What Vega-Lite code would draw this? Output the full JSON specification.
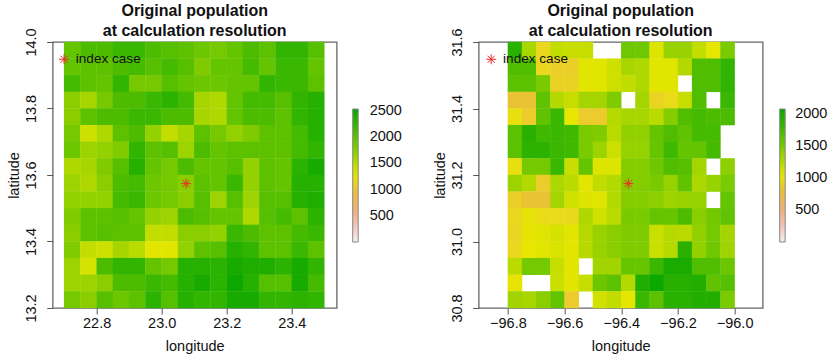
{"$schema":"https://vega.github.io/schema/vega-lite/v6.json","padding":{"left":4.7,"top":2,"right":0,"bottom":0},"background":"white","bounds":"flush","spacing":142,"resolve":{"scale":{"color":"independent"}},
"config":{"font":"Liberation Sans","view":{"stroke":"#666","strokeWidth":1.3},"axis":{"grid":false,"domain":false,"tickColor":"#555","tickSize":6,"labelColor":"#111","titleColor":"#111","labelFontSize":14.5,"titleFontSize":14.5,"titleFontWeight":"normal","labelOverlap":false,"labelFlush":false,"format":".1f"},"title":{"fontSize":16,"fontWeight":"bold","lineHeight":20,"color":"#111","anchor":"middle","frame":"group","offset":-11},"legend":{"gradientStrokeColor":"#888","gradientStrokeWidth":1,"labelFontSize":14.5,"labelColor":"#111"}},
"datasets":{"west":[
{"lon":22.725,"lat":13.975,"pop":1950},{"lon":22.775,"lat":13.975,"pop":2100},{"lon":22.825,"lat":13.975,"pop":2100},{"lon":22.875,"lat":13.975,"pop":2200},{"lon":22.925,"lat":13.975,"pop":2200},{"lon":22.975,"lat":13.975,"pop":2100},{"lon":23.025,"lat":13.975,"pop":2050},{"lon":23.075,"lat":13.975,"pop":2000},{"lon":23.125,"lat":13.975,"pop":1900},{"lon":23.175,"lat":13.975,"pop":1850},{"lon":23.225,"lat":13.975,"pop":1950},{"lon":23.275,"lat":13.975,"pop":2100},{"lon":23.325,"lat":13.975,"pop":2000},{"lon":23.375,"lat":13.975,"pop":2250},{"lon":23.425,"lat":13.975,"pop":2250},{"lon":23.475,"lat":13.975,"pop":2050},
{"lon":22.725,"lat":13.925,"pop":1950},{"lon":22.775,"lat":13.925,"pop":2000},{"lon":22.825,"lat":13.925,"pop":2000},{"lon":22.875,"lat":13.925,"pop":2100},{"lon":22.925,"lat":13.925,"pop":2150},{"lon":22.975,"lat":13.925,"pop":2050},{"lon":23.025,"lat":13.925,"pop":2150},{"lon":23.075,"lat":13.925,"pop":2050},{"lon":23.125,"lat":13.925,"pop":1800},{"lon":23.175,"lat":13.925,"pop":1950},{"lon":23.225,"lat":13.925,"pop":1950},{"lon":23.275,"lat":13.925,"pop":2150},{"lon":23.325,"lat":13.925,"pop":1950},{"lon":23.375,"lat":13.925,"pop":2200},{"lon":23.425,"lat":13.925,"pop":2200},{"lon":23.475,"lat":13.925,"pop":1950},
{"lon":22.725,"lat":13.875,"pop":2150},{"lon":22.775,"lat":13.875,"pop":2000},{"lon":22.825,"lat":13.875,"pop":1950},{"lon":22.875,"lat":13.875,"pop":2250},{"lon":22.925,"lat":13.875,"pop":1850},{"lon":22.975,"lat":13.875,"pop":1850},{"lon":23.025,"lat":13.875,"pop":2050},{"lon":23.075,"lat":13.875,"pop":1950},{"lon":23.125,"lat":13.875,"pop":1900},{"lon":23.175,"lat":13.875,"pop":1900},{"lon":23.225,"lat":13.875,"pop":1950},{"lon":23.275,"lat":13.875,"pop":1950},{"lon":23.325,"lat":13.875,"pop":2250},{"lon":23.375,"lat":13.875,"pop":2200},{"lon":23.425,"lat":13.875,"pop":2200},{"lon":23.475,"lat":13.875,"pop":2000},
{"lon":22.725,"lat":13.825,"pop":1750},{"lon":22.775,"lat":13.825,"pop":1600},{"lon":22.825,"lat":13.825,"pop":1850},{"lon":22.875,"lat":13.825,"pop":2100},{"lon":22.925,"lat":13.825,"pop":2100},{"lon":22.975,"lat":13.825,"pop":2200},{"lon":23.025,"lat":13.825,"pop":2300},{"lon":23.075,"lat":13.825,"pop":2150},{"lon":23.125,"lat":13.825,"pop":1600},{"lon":23.175,"lat":13.825,"pop":1550},{"lon":23.225,"lat":13.825,"pop":1950},{"lon":23.275,"lat":13.825,"pop":2150},{"lon":23.325,"lat":13.825,"pop":2150},{"lon":23.375,"lat":13.825,"pop":2050},{"lon":23.425,"lat":13.825,"pop":2250},{"lon":23.475,"lat":13.825,"pop":2350},
{"lon":22.725,"lat":13.775,"pop":1750},{"lon":22.775,"lat":13.775,"pop":2000},{"lon":22.825,"lat":13.775,"pop":2100},{"lon":22.875,"lat":13.775,"pop":2100},{"lon":22.925,"lat":13.775,"pop":2200},{"lon":22.975,"lat":13.775,"pop":2200},{"lon":23.025,"lat":13.775,"pop":2100},{"lon":23.075,"lat":13.775,"pop":2100},{"lon":23.125,"lat":13.775,"pop":1600},{"lon":23.175,"lat":13.775,"pop":1550},{"lon":23.225,"lat":13.775,"pop":1950},{"lon":23.275,"lat":13.775,"pop":2100},{"lon":23.325,"lat":13.775,"pop":2100},{"lon":23.375,"lat":13.775,"pop":2000},{"lon":23.425,"lat":13.775,"pop":2250},{"lon":23.475,"lat":13.775,"pop":2350},
{"lon":22.725,"lat":13.725,"pop":1850},{"lon":22.775,"lat":13.725,"pop":1400},{"lon":22.825,"lat":13.725,"pop":1550},{"lon":22.875,"lat":13.725,"pop":2000},{"lon":22.925,"lat":13.725,"pop":2100},{"lon":22.975,"lat":13.725,"pop":1700},{"lon":23.025,"lat":13.725,"pop":1450},{"lon":23.075,"lat":13.725,"pop":1600},{"lon":23.125,"lat":13.725,"pop":2000},{"lon":23.175,"lat":13.725,"pop":1850},{"lon":23.225,"lat":13.725,"pop":1700},{"lon":23.275,"lat":13.725,"pop":1800},{"lon":23.325,"lat":13.725,"pop":2000},{"lon":23.375,"lat":13.725,"pop":2000},{"lon":23.425,"lat":13.725,"pop":2150},{"lon":23.475,"lat":13.725,"pop":2350},
{"lon":22.725,"lat":13.675,"pop":1900},{"lon":22.775,"lat":13.675,"pop":1650},{"lon":22.825,"lat":13.675,"pop":1700},{"lon":22.875,"lat":13.675,"pop":1800},{"lon":22.925,"lat":13.675,"pop":2250},{"lon":22.975,"lat":13.675,"pop":2000},{"lon":23.025,"lat":13.675,"pop":2050},{"lon":23.075,"lat":13.675,"pop":1650},{"lon":23.125,"lat":13.675,"pop":2100},{"lon":23.175,"lat":13.675,"pop":1950},{"lon":23.225,"lat":13.675,"pop":2000},{"lon":23.275,"lat":13.675,"pop":2000},{"lon":23.325,"lat":13.675,"pop":2000},{"lon":23.375,"lat":13.675,"pop":2000},{"lon":23.425,"lat":13.675,"pop":2150},{"lon":23.475,"lat":13.675,"pop":2250},
{"lon":22.725,"lat":13.625,"pop":1550},{"lon":22.775,"lat":13.625,"pop":1600},{"lon":22.825,"lat":13.625,"pop":1800},{"lon":22.875,"lat":13.625,"pop":2050},{"lon":22.925,"lat":13.625,"pop":2350},{"lon":22.975,"lat":13.625,"pop":1950},{"lon":23.025,"lat":13.625,"pop":1850},{"lon":23.075,"lat":13.625,"pop":2100},{"lon":23.125,"lat":13.625,"pop":1950},{"lon":23.175,"lat":13.625,"pop":1950},{"lon":23.225,"lat":13.625,"pop":2050},{"lon":23.275,"lat":13.625,"pop":1700},{"lon":23.325,"lat":13.625,"pop":2000},{"lon":23.375,"lat":13.625,"pop":1950},{"lon":23.425,"lat":13.625,"pop":2300},{"lon":23.475,"lat":13.625,"pop":2450},
{"lon":22.725,"lat":13.575,"pop":1650},{"lon":22.775,"lat":13.575,"pop":1550},{"lon":22.825,"lat":13.575,"pop":1750},{"lon":22.875,"lat":13.575,"pop":2100},{"lon":22.925,"lat":13.575,"pop":2150},{"lon":22.975,"lat":13.575,"pop":1900},{"lon":23.025,"lat":13.575,"pop":1850},{"lon":23.075,"lat":13.575,"pop":1750},{"lon":23.125,"lat":13.575,"pop":2000},{"lon":23.175,"lat":13.575,"pop":1950},{"lon":23.225,"lat":13.575,"pop":2200},{"lon":23.275,"lat":13.575,"pop":1700},{"lon":23.325,"lat":13.575,"pop":2000},{"lon":23.375,"lat":13.575,"pop":1950},{"lon":23.425,"lat":13.575,"pop":2350},{"lon":23.475,"lat":13.575,"pop":2350},
{"lon":22.725,"lat":13.525,"pop":1700},{"lon":22.775,"lat":13.525,"pop":1700},{"lon":22.825,"lat":13.525,"pop":1700},{"lon":22.875,"lat":13.525,"pop":2150},{"lon":22.925,"lat":13.525,"pop":2200},{"lon":22.975,"lat":13.525,"pop":1900},{"lon":23.025,"lat":13.525,"pop":1850},{"lon":23.075,"lat":13.525,"pop":1750},{"lon":23.125,"lat":13.525,"pop":2050},{"lon":23.175,"lat":13.525,"pop":1650},{"lon":23.225,"lat":13.525,"pop":2050},{"lon":23.275,"lat":13.525,"pop":1650},{"lon":23.325,"lat":13.525,"pop":2050},{"lon":23.375,"lat":13.525,"pop":2050},{"lon":23.425,"lat":13.525,"pop":2350},{"lon":23.475,"lat":13.525,"pop":2400},
{"lon":22.725,"lat":13.475,"pop":1800},{"lon":22.775,"lat":13.475,"pop":2000},{"lon":22.825,"lat":13.475,"pop":2000},{"lon":22.875,"lat":13.475,"pop":2050},{"lon":22.925,"lat":13.475,"pop":1950},{"lon":22.975,"lat":13.475,"pop":1700},{"lon":23.025,"lat":13.475,"pop":1650},{"lon":23.075,"lat":13.475,"pop":2100},{"lon":23.125,"lat":13.475,"pop":2050},{"lon":23.175,"lat":13.475,"pop":1950},{"lon":23.225,"lat":13.475,"pop":1950},{"lon":23.275,"lat":13.475,"pop":1550},{"lon":23.325,"lat":13.475,"pop":2050},{"lon":23.375,"lat":13.475,"pop":2150},{"lon":23.425,"lat":13.475,"pop":2000},{"lon":23.475,"lat":13.475,"pop":2300},
{"lon":22.725,"lat":13.425,"pop":1750},{"lon":22.775,"lat":13.425,"pop":2000},{"lon":22.825,"lat":13.425,"pop":2050},{"lon":22.875,"lat":13.425,"pop":2000},{"lon":22.925,"lat":13.425,"pop":2000},{"lon":22.975,"lat":13.425,"pop":1450},{"lon":23.025,"lat":13.425,"pop":1450},{"lon":23.075,"lat":13.425,"pop":1750},{"lon":23.125,"lat":13.425,"pop":1750},{"lon":23.175,"lat":13.425,"pop":1700},{"lon":23.225,"lat":13.425,"pop":2200},{"lon":23.275,"lat":13.425,"pop":2100},{"lon":23.325,"lat":13.425,"pop":2000},{"lon":23.375,"lat":13.425,"pop":2000},{"lon":23.425,"lat":13.425,"pop":2150},{"lon":23.475,"lat":13.425,"pop":2200},
{"lon":22.725,"lat":13.375,"pop":1800},{"lon":22.775,"lat":13.375,"pop":1450},{"lon":22.825,"lat":13.375,"pop":1400},{"lon":22.875,"lat":13.375,"pop":1600},{"lon":22.925,"lat":13.375,"pop":1500},{"lon":22.975,"lat":13.375,"pop":1290},{"lon":23.025,"lat":13.375,"pop":1290},{"lon":23.075,"lat":13.375,"pop":1700},{"lon":23.125,"lat":13.375,"pop":2000},{"lon":23.175,"lat":13.375,"pop":2050},{"lon":23.225,"lat":13.375,"pop":2350},{"lon":23.275,"lat":13.375,"pop":2250},{"lon":23.325,"lat":13.375,"pop":2000},{"lon":23.375,"lat":13.375,"pop":2000},{"lon":23.425,"lat":13.375,"pop":2200},{"lon":23.475,"lat":13.375,"pop":2000},
{"lon":22.725,"lat":13.325,"pop":1650},{"lon":22.775,"lat":13.325,"pop":1350},{"lon":22.825,"lat":13.325,"pop":2100},{"lon":22.875,"lat":13.325,"pop":2250},{"lon":22.925,"lat":13.325,"pop":2250},{"lon":22.975,"lat":13.325,"pop":1950},{"lon":23.025,"lat":13.325,"pop":1850},{"lon":23.075,"lat":13.325,"pop":2350},{"lon":23.125,"lat":13.325,"pop":2350},{"lon":23.175,"lat":13.325,"pop":2300},{"lon":23.225,"lat":13.325,"pop":2450},{"lon":23.275,"lat":13.325,"pop":2400},{"lon":23.325,"lat":13.325,"pop":2400},{"lon":23.375,"lat":13.325,"pop":2300},{"lon":23.425,"lat":13.325,"pop":2450},{"lon":23.475,"lat":13.325,"pop":2250},
{"lon":22.725,"lat":13.275,"pop":1650},{"lon":22.775,"lat":13.275,"pop":1650},{"lon":22.825,"lat":13.275,"pop":1750},{"lon":22.875,"lat":13.275,"pop":2100},{"lon":22.925,"lat":13.275,"pop":2100},{"lon":22.975,"lat":13.275,"pop":2200},{"lon":23.025,"lat":13.275,"pop":2150},{"lon":23.075,"lat":13.275,"pop":2350},{"lon":23.125,"lat":13.275,"pop":2450},{"lon":23.175,"lat":13.275,"pop":2300},{"lon":23.225,"lat":13.275,"pop":2500},{"lon":23.275,"lat":13.275,"pop":2350},{"lon":23.325,"lat":13.275,"pop":2050},{"lon":23.375,"lat":13.275,"pop":2050},{"lon":23.425,"lat":13.275,"pop":2450},{"lon":23.475,"lat":13.275,"pop":2150},
{"lon":22.725,"lat":13.225,"pop":1850},{"lon":22.775,"lat":13.225,"pop":1750},{"lon":22.825,"lat":13.225,"pop":2050},{"lon":22.875,"lat":13.225,"pop":1900},{"lon":22.925,"lat":13.225,"pop":2000},{"lon":22.975,"lat":13.225,"pop":2300},{"lon":23.025,"lat":13.225,"pop":2050},{"lon":23.075,"lat":13.225,"pop":2350},{"lon":23.125,"lat":13.225,"pop":2250},{"lon":23.175,"lat":13.225,"pop":2250},{"lon":23.225,"lat":13.225,"pop":2450},{"lon":23.275,"lat":13.225,"pop":2450},{"lon":23.325,"lat":13.225,"pop":2250},{"lon":23.375,"lat":13.225,"pop":2250},{"lon":23.425,"lat":13.225,"pop":2300},{"lon":23.475,"lat":13.225,"pop":2250}
],"east":[
{"lon":-96.775,"lat":31.575,"pop":1900},{"lon":-96.725,"lat":31.575,"pop":1300},{"lon":-96.675,"lat":31.575,"pop":950},{"lon":-96.625,"lat":31.575,"pop":1190},{"lon":-96.575,"lat":31.575,"pop":1170},{"lon":-96.525,"lat":31.575,"pop":1180},{"lon":-96.375,"lat":31.575,"pop":1550},{"lon":-96.325,"lat":31.575,"pop":1550},{"lon":-96.275,"lat":31.575,"pop":1080},{"lon":-96.225,"lat":31.575,"pop":1370},{"lon":-96.175,"lat":31.575,"pop":1370},{"lon":-96.125,"lat":31.575,"pop":1190},{"lon":-96.075,"lat":31.575,"pop":1040},{"lon":-96.025,"lat":31.575,"pop":1500},
{"lon":-96.775,"lat":31.525,"pop":1700},{"lon":-96.725,"lat":31.525,"pop":1700},{"lon":-96.675,"lat":31.525,"pop":950},{"lon":-96.625,"lat":31.525,"pop":900},{"lon":-96.575,"lat":31.525,"pop":900},{"lon":-96.525,"lat":31.525,"pop":1060},{"lon":-96.475,"lat":31.525,"pop":1060},{"lon":-96.425,"lat":31.525,"pop":1140},{"lon":-96.375,"lat":31.525,"pop":1300},{"lon":-96.325,"lat":31.525,"pop":1270},{"lon":-96.275,"lat":31.525,"pop":1060},{"lon":-96.225,"lat":31.525,"pop":1060},{"lon":-96.175,"lat":31.525,"pop":1250},{"lon":-96.125,"lat":31.525,"pop":1700},{"lon":-96.075,"lat":31.525,"pop":1700},{"lon":-96.025,"lat":31.525,"pop":1850},
{"lon":-96.775,"lat":31.475,"pop":1650},{"lon":-96.725,"lat":31.475,"pop":1650},{"lon":-96.675,"lat":31.475,"pop":1500},{"lon":-96.625,"lat":31.475,"pop":920},{"lon":-96.575,"lat":31.475,"pop":920},{"lon":-96.525,"lat":31.475,"pop":1060},{"lon":-96.475,"lat":31.475,"pop":1060},{"lon":-96.425,"lat":31.475,"pop":1140},{"lon":-96.375,"lat":31.475,"pop":1200},{"lon":-96.325,"lat":31.475,"pop":1270},{"lon":-96.275,"lat":31.475,"pop":1060},{"lon":-96.225,"lat":31.475,"pop":1060},{"lon":-96.125,"lat":31.475,"pop":1700},{"lon":-96.075,"lat":31.475,"pop":1700},{"lon":-96.025,"lat":31.475,"pop":1850},
{"lon":-96.775,"lat":31.425,"pop":820},{"lon":-96.725,"lat":31.425,"pop":820},{"lon":-96.675,"lat":31.425,"pop":1620},{"lon":-96.625,"lat":31.425,"pop":1250},{"lon":-96.575,"lat":31.425,"pop":1180},{"lon":-96.525,"lat":31.425,"pop":1320},{"lon":-96.475,"lat":31.425,"pop":1320},{"lon":-96.425,"lat":31.425,"pop":1480},{"lon":-96.325,"lat":31.425,"pop":1320},{"lon":-96.275,"lat":31.425,"pop":930},{"lon":-96.225,"lat":31.425,"pop":970},{"lon":-96.175,"lat":31.425,"pop":1170},{"lon":-96.125,"lat":31.425,"pop":1700},{"lon":-96.025,"lat":31.425,"pop":1800},
{"lon":-96.775,"lat":31.375,"pop":1000},{"lon":-96.725,"lat":31.375,"pop":880},{"lon":-96.675,"lat":31.375,"pop":1620},{"lon":-96.625,"lat":31.375,"pop":1800},{"lon":-96.575,"lat":31.375,"pop":1040},{"lon":-96.525,"lat":31.375,"pop":870},{"lon":-96.475,"lat":31.375,"pop":870},{"lon":-96.425,"lat":31.375,"pop":1240},{"lon":-96.375,"lat":31.375,"pop":1300},{"lon":-96.325,"lat":31.375,"pop":1300},{"lon":-96.275,"lat":31.375,"pop":1220},{"lon":-96.225,"lat":31.375,"pop":1450},{"lon":-96.175,"lat":31.375,"pop":1700},{"lon":-96.125,"lat":31.375,"pop":1750},{"lon":-96.075,"lat":31.375,"pop":1720},{"lon":-96.025,"lat":31.375,"pop":1720},
{"lon":-96.775,"lat":31.325,"pop":1650},{"lon":-96.725,"lat":31.325,"pop":1900},{"lon":-96.675,"lat":31.325,"pop":1780},{"lon":-96.625,"lat":31.325,"pop":1800},{"lon":-96.575,"lat":31.325,"pop":1780},{"lon":-96.525,"lat":31.325,"pop":1500},{"lon":-96.475,"lat":31.325,"pop":1480},{"lon":-96.425,"lat":31.325,"pop":1220},{"lon":-96.375,"lat":31.325,"pop":1400},{"lon":-96.325,"lat":31.325,"pop":1400},{"lon":-96.275,"lat":31.325,"pop":1600},{"lon":-96.225,"lat":31.325,"pop":1700},{"lon":-96.175,"lat":31.325,"pop":1620},{"lon":-96.125,"lat":31.325,"pop":1760},{"lon":-96.075,"lat":31.325,"pop":1760},
{"lon":-96.775,"lat":31.275,"pop":1650},{"lon":-96.725,"lat":31.275,"pop":1880},{"lon":-96.675,"lat":31.275,"pop":1880},{"lon":-96.625,"lat":31.275,"pop":1800},{"lon":-96.575,"lat":31.275,"pop":1780},{"lon":-96.525,"lat":31.275,"pop":1500},{"lon":-96.475,"lat":31.275,"pop":1350},{"lon":-96.425,"lat":31.275,"pop":1150},{"lon":-96.375,"lat":31.275,"pop":1380},{"lon":-96.325,"lat":31.275,"pop":1380},{"lon":-96.275,"lat":31.275,"pop":1580},{"lon":-96.225,"lat":31.275,"pop":1780},{"lon":-96.175,"lat":31.275,"pop":1600},{"lon":-96.125,"lat":31.275,"pop":1600},{"lon":-96.075,"lat":31.275,"pop":1750},
{"lon":-96.775,"lat":31.225,"pop":1000},{"lon":-96.725,"lat":31.225,"pop":1520},{"lon":-96.675,"lat":31.225,"pop":1520},{"lon":-96.625,"lat":31.225,"pop":1800},{"lon":-96.575,"lat":31.225,"pop":1170},{"lon":-96.525,"lat":31.225,"pop":1600},{"lon":-96.475,"lat":31.225,"pop":1080},{"lon":-96.425,"lat":31.225,"pop":1080},{"lon":-96.375,"lat":31.225,"pop":1450},{"lon":-96.325,"lat":31.225,"pop":1450},{"lon":-96.275,"lat":31.225,"pop":1550},{"lon":-96.225,"lat":31.225,"pop":1700},{"lon":-96.175,"lat":31.225,"pop":1680},{"lon":-96.125,"lat":31.225,"pop":1320},{"lon":-96.025,"lat":31.225,"pop":1420},
{"lon":-96.775,"lat":31.175,"pop":1350},{"lon":-96.725,"lat":31.175,"pop":1260},{"lon":-96.675,"lat":31.175,"pop":880},{"lon":-96.625,"lat":31.175,"pop":1280},{"lon":-96.575,"lat":31.175,"pop":1230},{"lon":-96.525,"lat":31.175,"pop":1060},{"lon":-96.475,"lat":31.175,"pop":1200},{"lon":-96.425,"lat":31.175,"pop":1260},{"lon":-96.375,"lat":31.175,"pop":1460},{"lon":-96.325,"lat":31.175,"pop":1460},{"lon":-96.275,"lat":31.175,"pop":1500},{"lon":-96.225,"lat":31.175,"pop":1380},{"lon":-96.175,"lat":31.175,"pop":1620},{"lon":-96.125,"lat":31.175,"pop":1280},{"lon":-96.075,"lat":31.175,"pop":1370},{"lon":-96.025,"lat":31.175,"pop":1500},
{"lon":-96.775,"lat":31.125,"pop":900},{"lon":-96.725,"lat":31.125,"pop":820},{"lon":-96.675,"lat":31.125,"pop":820},{"lon":-96.625,"lat":31.125,"pop":1320},{"lon":-96.575,"lat":31.125,"pop":1130},{"lon":-96.525,"lat":31.125,"pop":1080},{"lon":-96.475,"lat":31.125,"pop":1070},{"lon":-96.425,"lat":31.125,"pop":1260},{"lon":-96.375,"lat":31.125,"pop":1450},{"lon":-96.325,"lat":31.125,"pop":1450},{"lon":-96.275,"lat":31.125,"pop":1420},{"lon":-96.225,"lat":31.125,"pop":1350},{"lon":-96.175,"lat":31.125,"pop":1370},{"lon":-96.125,"lat":31.125,"pop":1380},{"lon":-96.025,"lat":31.125,"pop":1600},
{"lon":-96.775,"lat":31.075,"pop":950},{"lon":-96.725,"lat":31.075,"pop":1020},{"lon":-96.675,"lat":31.075,"pop":980},{"lon":-96.625,"lat":31.075,"pop":970},{"lon":-96.575,"lat":31.075,"pop":960},{"lon":-96.525,"lat":31.075,"pop":1270},{"lon":-96.475,"lat":31.075,"pop":1130},{"lon":-96.425,"lat":31.075,"pop":1230},{"lon":-96.375,"lat":31.075,"pop":1500},{"lon":-96.325,"lat":31.075,"pop":1500},{"lon":-96.275,"lat":31.075,"pop":1600},{"lon":-96.225,"lat":31.075,"pop":1580},{"lon":-96.175,"lat":31.075,"pop":1720},{"lon":-96.125,"lat":31.075,"pop":1430},{"lon":-96.075,"lat":31.075,"pop":1530},{"lon":-96.025,"lat":31.075,"pop":1620},
{"lon":-96.775,"lat":31.025,"pop":930},{"lon":-96.725,"lat":31.025,"pop":1030},{"lon":-96.675,"lat":31.025,"pop":1070},{"lon":-96.625,"lat":31.025,"pop":1110},{"lon":-96.575,"lat":31.025,"pop":1060},{"lon":-96.525,"lat":31.025,"pop":1240},{"lon":-96.475,"lat":31.025,"pop":1370},{"lon":-96.425,"lat":31.025,"pop":1430},{"lon":-96.375,"lat":31.025,"pop":1480},{"lon":-96.325,"lat":31.025,"pop":1480},{"lon":-96.275,"lat":31.025,"pop":1160},{"lon":-96.225,"lat":31.025,"pop":1240},{"lon":-96.175,"lat":31.025,"pop":1220},{"lon":-96.125,"lat":31.025,"pop":1400},{"lon":-96.075,"lat":31.025,"pop":1520},{"lon":-96.025,"lat":31.025,"pop":1320},
{"lon":-96.775,"lat":30.975,"pop":950},{"lon":-96.725,"lat":30.975,"pop":1040},{"lon":-96.675,"lat":30.975,"pop":1060},{"lon":-96.625,"lat":30.975,"pop":1100},{"lon":-96.575,"lat":30.975,"pop":1060},{"lon":-96.525,"lat":30.975,"pop":1240},{"lon":-96.475,"lat":30.975,"pop":1370},{"lon":-96.425,"lat":30.975,"pop":1430},{"lon":-96.375,"lat":30.975,"pop":1480},{"lon":-96.325,"lat":30.975,"pop":1480},{"lon":-96.275,"lat":30.975,"pop":1160},{"lon":-96.225,"lat":30.975,"pop":1240},{"lon":-96.175,"lat":30.975,"pop":1900},{"lon":-96.125,"lat":30.975,"pop":1400},{"lon":-96.075,"lat":30.975,"pop":1540},{"lon":-96.025,"lat":30.975,"pop":1340},
{"lon":-96.775,"lat":30.925,"pop":1220},{"lon":-96.725,"lat":30.925,"pop":1520},{"lon":-96.675,"lat":30.925,"pop":1520},{"lon":-96.625,"lat":30.925,"pop":1180},{"lon":-96.575,"lat":30.925,"pop":1060},{"lon":-96.475,"lat":30.925,"pop":1330},{"lon":-96.425,"lat":30.925,"pop":1330},{"lon":-96.375,"lat":30.925,"pop":1580},{"lon":-96.325,"lat":30.925,"pop":1580},{"lon":-96.275,"lat":30.925,"pop":1800},{"lon":-96.225,"lat":30.925,"pop":2000},{"lon":-96.175,"lat":30.925,"pop":2000},{"lon":-96.125,"lat":30.925,"pop":1700},{"lon":-96.075,"lat":30.925,"pop":1700},{"lon":-96.025,"lat":30.925,"pop":1560},
{"lon":-96.775,"lat":30.875,"pop":1030},{"lon":-96.625,"lat":30.875,"pop":1160},{"lon":-96.575,"lat":30.875,"pop":1060},{"lon":-96.525,"lat":30.875,"pop":1180},{"lon":-96.475,"lat":30.875,"pop":1560},{"lon":-96.425,"lat":30.875,"pop":1650},{"lon":-96.375,"lat":30.875,"pop":1260},{"lon":-96.325,"lat":30.875,"pop":1950},{"lon":-96.275,"lat":30.875,"pop":2050},{"lon":-96.225,"lat":30.875,"pop":1920},{"lon":-96.175,"lat":30.875,"pop":1920},{"lon":-96.125,"lat":30.875,"pop":1950},{"lon":-96.075,"lat":30.875,"pop":1620},{"lon":-96.025,"lat":30.875,"pop":1680},
{"lon":-96.775,"lat":30.825,"pop":1330},{"lon":-96.725,"lat":30.825,"pop":1300},{"lon":-96.675,"lat":30.825,"pop":1430},{"lon":-96.625,"lat":30.825,"pop":1600},{"lon":-96.575,"lat":30.825,"pop":870},{"lon":-96.475,"lat":30.825,"pop":1130},{"lon":-96.425,"lat":30.825,"pop":1200},{"lon":-96.375,"lat":30.825,"pop":1050},{"lon":-96.325,"lat":30.825,"pop":1800},{"lon":-96.275,"lat":30.825,"pop":1650},{"lon":-96.225,"lat":30.825,"pop":1900},{"lon":-96.175,"lat":30.825,"pop":1900},{"lon":-96.125,"lat":30.825,"pop":1950},{"lon":-96.075,"lat":30.825,"pop":1950},{"lon":-96.025,"lat":30.825,"pop":1500}
]},
"hconcat":[
{"width":284,"height":266,"title":{"text":["Original population","at calculation resolution"]},"layer":[
{"data":{"name":"west"},"mark":{"type":"rect","width":16.6,"height":17},"encoding":{"x":{"field":"lon","type":"quantitative","scale":{"domain":[22.665,23.538],"nice":false,"zero":false},"axis":{"title":"longitude","values":[22.8,23,23.2,23.4],"labelPadding":3,"titlePadding":9}},"y":{"field":"lat","type":"quantitative","scale":{"domain":[13.2,14],"nice":false,"zero":false},"axis":{"title":"latitude","values":[13.2,13.4,13.6,13.8,14],"labelAngle":-90,"labelAlign":"center","labelBaseline":"bottom","labelPadding":8,"titlePadding":2.5}},"color":{"field":"pop","type":"quantitative","scale":{"domain":[0,317.5,635,952.5,1270,1587.5,1905,2222.5,2540],"range":["#F2F2F2","#EFC2B3","#ECB176","#E9BD3A","#E6E600","#A8D600","#6BC600","#35B600","#00A600"]},"legend":{"title":null,"format":"d","orient":"none","legendX":300,"legendY":67,"gradientLength":133,"gradientThickness":5.5,"values":[500,1000,1500,2000,2500],"labelOffset":11.5}}}},
{"data":{"values":[{"lon":23.075,"lat":13.574},{"lon":22.7,"lat":13.948}]},"mark":{"type":"point","shape":"M-1,0L1,0M0,-1L0,1M-.7,-.7L.7,.7M-.7,.7L.7,-.7","size":100,"stroke":"#ee2a2a","strokeWidth":1,"filled":false,"opacity":1},"encoding":{"x":{"field":"lon","type":"quantitative"},"y":{"field":"lat","type":"quantitative"}}},
{"data":{"values":[{"lon":22.736,"lat":13.948,"label":"index case"}]},"mark":{"type":"text","align":"left","baseline":"middle","fontSize":13.6,"color":"#111"},"encoding":{"x":{"field":"lon","type":"quantitative"},"y":{"field":"lat","type":"quantitative"},"text":{"field":"label"}}}
]},
{"width":284,"height":266,"title":{"text":["Original population","at calculation resolution"]},"layer":[
{"data":{"name":"east"},"mark":{"type":"rect","width":14.6,"height":17},"encoding":{"x":{"field":"lon","type":"quantitative","scale":{"domain":[-96.903,-95.901],"nice":false,"zero":false},"axis":{"title":"longitude","values":[-96.8,-96.6,-96.4,-96.2,-96],"labelPadding":3,"titlePadding":9}},"y":{"field":"lat","type":"quantitative","scale":{"domain":[30.8,31.6],"nice":false,"zero":false},"axis":{"title":"latitude","values":[30.8,31,31.2,31.4,31.6],"labelAngle":-90,"labelAlign":"center","labelBaseline":"bottom","labelPadding":8,"titlePadding":2.5}},"color":{"field":"pop","type":"quantitative","scale":{"domain":[0,260,520,780,1040,1300,1560,1820,2080],"range":["#F2F2F2","#EFC2B3","#ECB176","#E9BD3A","#E6E600","#A8D600","#6BC600","#35B600","#00A600"]},"legend":{"title":null,"format":"d","orient":"none","legendX":301,"legendY":67,"gradientLength":133,"gradientThickness":5.5,"values":[500,1000,1500,2000],"labelOffset":10}}}},
{"data":{"values":[{"lon":-96.375,"lat":31.174},{"lon":-96.859,"lat":31.548}]},"mark":{"type":"point","shape":"M-1,0L1,0M0,-1L0,1M-.7,-.7L.7,.7M-.7,.7L.7,-.7","size":100,"stroke":"#ee2a2a","strokeWidth":1,"filled":false,"opacity":1},"encoding":{"x":{"field":"lon","type":"quantitative"},"y":{"field":"lat","type":"quantitative"}}},
{"data":{"values":[{"lon":-96.817,"lat":31.548,"label":"index case"}]},"mark":{"type":"text","align":"left","baseline":"middle","fontSize":13.6,"color":"#111"},"encoding":{"x":{"field":"lon","type":"quantitative"},"y":{"field":"lat","type":"quantitative"},"text":{"field":"label"}}}
]}
]}
